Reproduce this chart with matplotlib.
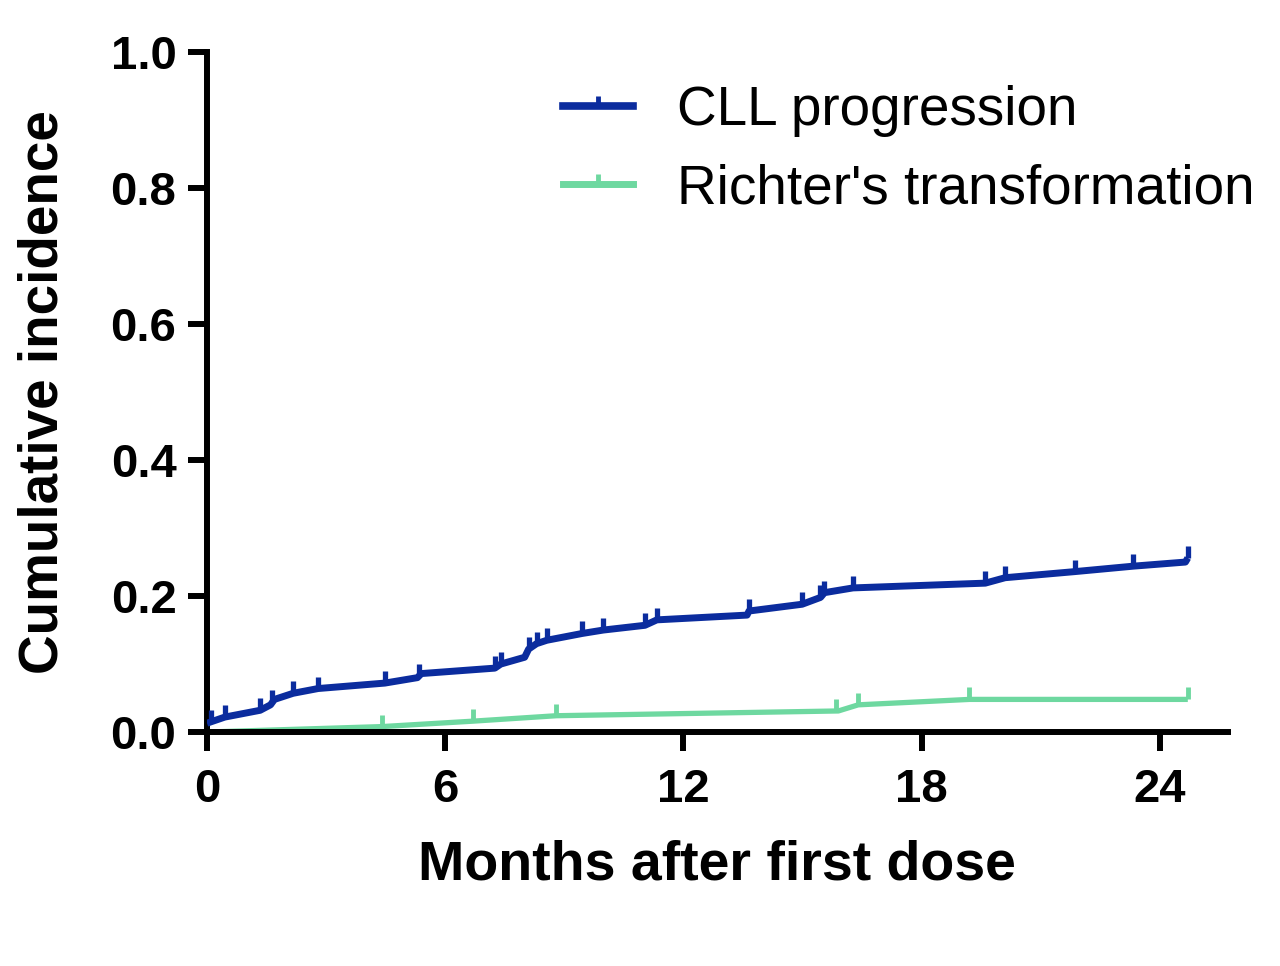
import numpy as np
import matplotlib
matplotlib.use("Agg")
import matplotlib.pyplot as plt

plt.rcParams['font.family'] = ['Liberation Sans', 'DejaVu Sans']

# cumulative incidence curves (months, incidence)
cll_t = [0, 0.45, 1.34, 1.6, 1.7, 2.17, 2.8, 4.48, 5.3, 5.4, 7.25, 7.4, 8.0, 8.1, 8.3, 8.56,
         9.45, 9.98, 11.03, 11.33, 13.6, 13.65, 14.99, 15.45, 15.55, 16.27, 19.6, 20.1,
         21.86, 23.33, 24.64, 24.7]
cll_y = [0.013, 0.022, 0.032, 0.040, 0.048, 0.057, 0.064, 0.072, 0.080, 0.086, 0.094, 0.100,
         0.110, 0.122, 0.130, 0.135, 0.145, 0.150, 0.157, 0.165, 0.172, 0.178, 0.188, 0.198,
         0.205, 0.212, 0.219, 0.227, 0.236, 0.244, 0.250, 0.256]
cll_cens = [0.1, 0.45, 1.34, 1.65, 2.17, 2.8, 4.48, 5.35, 7.25, 7.4, 8.1, 8.3, 8.56, 9.45,
            9.98, 11.03, 11.33, 13.65, 14.99, 15.45, 15.55, 16.27, 19.6, 20.1, 21.86,
            23.33, 24.7]

rt_t = [0, 4.4, 6.7, 8.8, 15.9, 16.4, 19.2, 24.7]
rt_y = [0.0, 0.008, 0.016, 0.024, 0.031, 0.040, 0.048, 0.048]
rt_cens = [0.0, 4.4, 6.7, 8.8, 15.85, 16.4, 19.2, 24.7]

labels = ['CLL progression', "Richter's transformation"]
colors = ['#0B2C9E', '#6ED8A0']

tick_up = [(0, 0), (0, 1)]  # censor mark pointing up

fig = plt.figure(figsize=(12.8, 9.66), dpi=100)
ax = fig.add_axes([0.1617, 0.2422, 0.7973, 0.7038])

ax.plot(rt_t, rt_y, color=colors[1], lw=3.8, solid_capstyle='butt', zorder=2)
ax.plot(rt_cens, np.interp(rt_cens, rt_t, rt_y), ls='none', marker=tick_up, ms=17,
        mew=3.5, color=colors[1], zorder=2)
ax.plot(cll_t, cll_y, color=colors[0], lw=5, solid_capstyle='butt', zorder=3)
ax.plot(cll_cens, np.interp(cll_cens, cll_t, cll_y), ls='none', marker=tick_up, ms=17,
        mew=3.8, color=colors[0], zorder=3)

# legend handles
h1, = ax.plot([], [], color=colors[0], lw=5.5, marker=tick_up, ms=15, mew=3.5)
h2, = ax.plot([], [], color=colors[1], lw=5, marker=tick_up, ms=15, mew=3.5)
ax.legend([h1, h2], labels, loc='upper left', bbox_to_anchor=(0.44, 0.912),
          bbox_transform=fig.transFigure, frameon=False, fontsize=39.5, numpoints=1,
          handlelength=1.28, handletextpad=0.8, labelspacing=0.48, borderpad=0,
          borderaxespad=0)

ax.set_xlim(0, 25.7)
ax.set_ylim(0, 1.0)
ax.set_xticks([0, 6, 12, 18, 24])
ax.set_yticks([0.0, 0.2, 0.4, 0.6, 0.8, 1.0])
ax.set_yticklabels(['0.0', '0.2', '0.4', '0.6', '0.8', '1.0'])

for s in ['top', 'right']:
    ax.spines[s].set_visible(False)
for s in ['left', 'bottom']:
    ax.spines[s].set_linewidth(4.3)
ax.tick_params(length=14, width=4.3, labelsize=34, pad=8)
ax.tick_params(axis='x', pad=12)
for lab in ax.get_xticklabels() + ax.get_yticklabels():
    lab.set_fontweight('bold')

ax.set_xlabel('Months after first dose', fontsize=40, fontweight='bold')
ax.set_ylabel('Cumulative incidence', fontsize=39.5, fontweight='bold')
ax.xaxis.set_label_coords(0.5, -0.158)
ax.yaxis.set_label_coords(-0.135, 0.5)

fig.savefig('out.png', dpi=100)
